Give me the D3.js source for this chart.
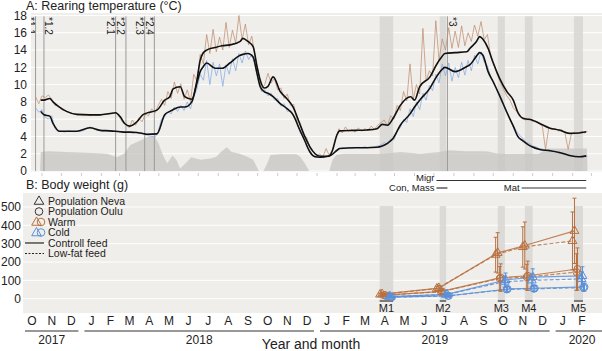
<!DOCTYPE html>
<html>
<head>
<meta charset="utf-8">
<script src="https://cdn.jsdelivr.net/npm/d3@7"></script>
<style>
  body { margin: 0; background: #ffffff; }
  svg { display: block; font-family: "Liberation Sans", Arial, sans-serif; }
</style>
</head>
<body>
<svg id="chart" width="602" height="351"></svg>
<script>
// ---------- Data ----------

// Smoothed rearing temperature (black lines), same dates for both treatments
let meanDates = ['2017-10-30','2017-11-04','2017-11-13','2017-11-18','2017-11-28','2017-12-09','2017-12-25','2018-01-14','2018-01-30','2018-02-14',
  '2018-02-23','2018-03-02','2018-03-09','2018-03-17','2018-03-28','2018-04-06','2018-04-12','2018-04-28','2018-05-10','2018-05-18',
  '2018-05-23','2018-06-03','2018-06-10','2018-06-21','2018-06-29','2018-07-04','2018-07-08','2018-07-14','2018-07-27','2018-08-07',
  '2018-08-19','2018-09-04','2018-09-08','2018-09-16','2018-09-24','2018-09-30','2018-10-05','2018-10-11','2018-10-17','2018-10-25',
  '2018-11-05','2018-11-15','2018-11-25','2018-12-05','2018-12-13','2018-12-21','2018-12-29','2019-01-06','2019-01-18','2019-01-24',
  '2019-02-01','2019-02-05','2019-03-01','2019-03-19','2019-04-04','2019-04-12','2019-04-20','2019-04-29','2019-05-10','2019-05-26',
  '2019-06-01','2019-06-09','2019-06-25','2019-07-05','2019-07-13','2019-07-18','2019-08-03','2019-08-21','2019-08-26','2019-09-05',
  '2019-09-10','2019-09-15','2019-09-23','2019-10-01','2019-10-11','2019-10-22','2019-11-01','2019-11-08','2019-11-16','2019-11-30',
  '2019-12-12','2019-12-28','2020-01-11','2020-01-27','2020-02-11','2020-02-22'];
let warmMean = [8.2,8.2,8.4,8.0,7.4,6.9,6.55,6.5,6.5,6.65,
  6.75,6.3,5.5,5.2,5.7,6.5,6.7,7.05,8.2,8.6,
  9.5,9.75,8.6,8.3,10.5,12.8,13.6,14.0,14.3,14.5,
  14.6,15.0,15.35,15.0,14.4,12.1,10.5,9.6,9.8,10.9,
  9.2,8.4,7.4,5.5,4.0,2.8,2.0,1.7,1.7,2.2,
  4.2,4.65,4.7,4.75,4.9,5.4,5.3,6.1,7.6,8.6,
  8.2,9.75,10.9,12.3,13.2,13.6,13.7,13.8,14.2,15.0,
  15.55,15.25,14.2,12.5,10.7,9.2,8.2,6.8,6.1,5.9,
  5.5,4.95,4.75,4.35,4.4,4.55];
let coldMean = [6.9,6.5,6.35,5.5,4.6,4.6,4.6,5.0,4.7,4.65,
  4.6,4.55,4.5,4.5,4.45,4.35,4.25,4.3,6.5,6.9,
  7.1,7.4,7.4,8.0,10.2,11.5,12.0,12.5,11.9,11.9,
  12.5,13.4,13.5,13.6,13.2,11.3,9.75,9.2,9.0,8.6,
  7.8,7.25,6.5,4.8,3.5,2.2,1.65,1.6,1.7,1.9,
  2.4,2.6,2.7,2.7,2.75,2.9,3.2,3.8,5.3,6.7,
  7.4,8.2,9.6,10.9,11.7,12.0,11.5,12.1,12.3,13.3,
  13.7,13.4,11.5,10.3,8.7,6.8,5.2,4.0,3.5,2.8,
  2.5,2.35,2.15,1.8,1.65,1.75];

// Logged temperature, one reading every 5 days from rawStart
let rawStart = '2017-10-22';
let rawStep = 5;
let warmRaw = [8.6,7.8,8.7,8.5,8.8,8.3,7.6,7.5,7.1,7.0,
  6.8,6.7,6.6,6.5,6.5,6.45,6.5,6.4,6.5,6.45,
  6.5,6.55,6.6,6.6,6.7,6.75,6.2,5.6,5.4,5.0,
  5.9,5.3,6.1,5.7,6.6,6.4,7.2,6.7,7.6,8.3,
  7.6,9.2,8.4,10.3,9.0,10.1,8.3,9.4,8.0,11.2,
  10.4,13.5,12.4,15.8,13.6,16.4,13.8,15.5,14.0,17.2,
  14.3,16.3,14.8,18.0,15.2,17.0,14.6,15.6,13.2,11.6,
  9.4,10.0,11.3,10.2,10.7,9.4,9.6,8.4,8.9,7.6,
  7.7,5.8,5.6,4.0,3.9,2.6,2.3,1.7,2.0,1.6,
  2.6,1.8,2.5,3.9,4.9,4.4,5.1,4.6,4.8,4.5,
  5.0,4.6,4.9,4.7,5.2,4.8,5.3,5.6,5.9,5.2,
  6.4,6.0,7.6,7.0,9.2,8.1,12.4,8.3,10.0,8.9,
  16.5,10.4,11.6,11.0,17.4,12.8,15.3,14.0,16.6,14.2,
  16.2,14.3,16.8,14.5,16.0,15.0,16.9,15.6,17.3,15.2,
  15.8,13.2,12.4,11.2,10.3,9.4,8.7,8.2,7.3,6.9,
  6.3,6.0,5.9,6.1,5.7,5.8,5.5,5.2,2.5,5.0,
  4.8,4.9,4.6,4.8,4.4,2.5,4.3,4.5,4.3,4.6,
  4.4,4.6];
let coldRaw = [7.3,6.8,7.1,6.2,6.0,6.4,4.9,4.6,4.6,4.5,
  4.65,4.6,4.55,4.6,4.6,4.7,5.0,5.1,4.9,4.7,
  4.7,4.6,4.65,4.6,4.6,4.55,4.5,4.55,4.45,4.5,
  4.4,4.45,4.35,4.4,4.2,4.1,4.0,3.9,4.6,6.0,
  6.3,6.9,6.6,7.4,6.9,7.6,7.0,8.0,7.2,8.6,
  9.5,11.2,10.5,12.8,10.0,12.6,11.0,12.4,9.8,12.3,
  11.2,13.0,11.6,13.6,12.5,13.9,12.9,13.5,12.2,10.6,
  9.2,9.4,8.7,9.0,8.2,8.4,7.5,7.8,6.9,7.0,
  6.2,5.6,4.4,4.0,2.8,2.4,1.7,1.6,1.55,1.6,
  1.7,1.65,1.9,2.3,2.5,2.7,2.6,2.7,2.65,2.7,
  2.75,2.7,2.8,2.7,2.75,2.8,2.9,3.0,3.3,3.1,
  3.7,3.6,4.6,5.0,6.0,5.6,7.2,6.3,8.0,7.1,
  9.0,8.2,9.9,9.3,11.2,10.2,12.4,11.0,12.5,10.4,
  12.0,10.8,12.6,11.1,12.8,11.6,13.4,12.4,13.8,12.6,
  12.2,10.8,10.3,9.3,8.6,7.6,6.9,6.0,5.3,4.6,
  4.1,3.8,3.3,3.2,2.9,2.8,2.6,2.55,2.4,2.45,
  2.3,2.3,2.2,2.1,2.0,1.85,1.8,1.7,1.65,1.7,
  1.75,1.7];

// Temperature difference between treatments (grey area)
let diffDates = ['2017-10-29','2017-10-30','2017-11-10','2017-12-10','2018-01-10','2018-02-10','2018-02-25','2018-03-08','2018-03-18','2018-04-04',
  '2018-04-14','2018-04-24','2018-04-30','2018-05-08','2018-05-14','2018-05-22','2018-05-28','2018-06-03','2018-06-13','2018-06-20',
  '2018-07-05','2018-07-20','2018-07-29','2018-08-05','2018-08-14','2018-08-22','2018-09-03','2018-09-15','2018-09-24','2018-10-01',
  '2018-10-03','2018-10-10','2018-10-16','2018-10-21','2018-11-05','2018-11-30','2018-12-06','2018-12-13','2018-12-20','2019-01-20',
  '2019-01-25','2019-01-31','2019-02-10','2019-03-15','2019-04-15','2019-05-10','2019-06-10','2019-07-10','2019-07-25','2019-08-20',
  '2019-09-20','2019-10-10','2019-11-15','2019-12-10','2019-12-25','2020-01-20','2020-02-23','2020-02-24'];
let diffVals = [0,2.2,2.3,2.2,2.1,2.0,1.6,2.0,3.0,3.6,
  4.0,4.0,3.3,1.7,0.9,1.8,1.3,0.3,1.0,1.6,
  1.3,1.45,1.65,2.2,2.75,2.2,2.0,1.65,1.3,0.3,
  0,0,0.9,1.85,1.95,1.95,1.65,0.9,0,0,
  1.3,1.85,2.0,2.0,2.0,2.2,2.0,2.2,2.4,2.3,
  2.3,2.0,2.0,2.0,2.6,2.6,2.6,0];

// Event markers in panel A
let noteLabels = ['*1.1','*1.2','*2.1','*2.2','*2.3','*2.4','*3'];
let noteDates = ['2017-10-22','2017-11-04','2018-02-23','2018-03-11','2018-04-09','2018-04-24','2019-07-22'];

// Life stage periods
let phaseNames = ['Migr','Con, Mass','Mat'];
let phaseStart = ['2019-07-05','2019-07-05','2019-11-14'];
let phaseEnd = ['2020-02-22','2019-07-22','2020-02-22'];

// Measurement periods
let mLabels = ['M1','M2','M3','M4','M5'];
let mStart = ['2019-04-08','2019-07-10','2019-10-08','2019-11-19','2020-02-03'];
let mEnd = ['2019-04-29','2019-07-20','2019-10-19','2019-12-01','2020-02-17'];
let mDates = ['2019-04-18','2019-07-15','2019-10-14','2019-11-25','2020-02-10'];

// Body weight (g): mean and SD per group at M1..M5
let bwPop = ['Neva','Neva','Oulu','Oulu','Neva','Neva','Oulu','Oulu'];
let bwTemp = ['Warm','Warm','Warm','Warm','Cold','Cold','Cold','Cold'];
let bwFeed = ['Control','Low-fat','Control','Low-fat','Control','Low-fat','Control','Low-fat'];
let bwMean = [
  [25, 58, 250, 290, 370],
  [23, 55, 240, 282, 315],
  [20, 40, 115, 125, 162],
  [19, 38, 110, 118, 145],
  [12, 24, 102, 118, 124],
  [11, 22, 93, 100, 108],
  [9, 16, 53, 57, 64],
  [8, 15, 50, 54, 60]];
let bwSd = [
  [8, 14, 110, 128, 178],
  [7, 13, 95, 110, 158],
  [6, 12, 75, 80, 115],
  [6, 11, 65, 70, 100],
  [4, 8, 38, 45, 50],
  [4, 7, 30, 35, 40],
  [3, 5, 15, 16, 22],
  [3, 5, 13, 15, 20]];

// Axis labels
let yearLabels = ['2017','2018','2019','2020'];
let axisStart = '2017-10-01';
let axisEnd = '2020-04-01';
let lastMonth = '2020-02-01';

// ---------- Drawing ----------

let parseDate = d3.timeParse('%Y-%m-%d');
let svg = d3.select('#chart');
let W = 602;

let bgColor = '#f0eeeb';
let bandColor = '#d7d6d4';
let warmColor = '#b8703f';
let coldColor = '#5a8fd8';
let textColor = '#222222';

// Shared time scale
let x = d3.scaleTime()
    .domain([parseDate('2017-10-16'), parseDate('2020-02-15')])
    .range([31.7, 581.7]);

// ===== Panel A =====
let aTop = 13, aBottom = 172, aLeft = 31;
let yA = d3.scaleLinear().domain([0, 18]).range([171, 15.5]);

svg.append('defs').append('clipPath').attr('id', 'clipA')
    .append('rect').attr('x', aLeft).attr('y', aTop).attr('width', W - aLeft).attr('height', aBottom - aTop);

let gA = svg.append('g').attr('clip-path', 'url(#clipA)');

gA.append('rect')
    .attr('x', aLeft).attr('y', aTop)
    .attr('width', W - aLeft).attr('height', aBottom - aTop)
    .attr('fill', bgColor);

gA.selectAll('line.grid')
    .data(d3.range(0, 19, 2))
    .join('line')
    .attr('class', 'grid')
    .attr('x1', aLeft).attr('x2', W)
    .attr('y1', d => yA(d)).attr('y2', d => yA(d))
    .attr('stroke', '#ffffff').attr('stroke-width', 1);

// Measurement bands
gA.selectAll('rect.band')
    .data(mLabels)
    .join('rect')
    .attr('class', 'band')
    .attr('x', (d, i) => x(parseDate(mStart[i])))
    .attr('width', (d, i) => x(parseDate(mEnd[i])) - x(parseDate(mStart[i])))
    .attr('y', yA(17.9)).attr('height', yA(0) - yA(17.9))
    .attr('fill', bandColor).attr('opacity', 0.85);

// Difference area
let diffData = diffDates.map((d, i) => ({ date: parseDate(d), v: diffVals[i] }));
gA.append('path')
    .datum(diffData)
    .attr('d', d3.area().x(d => x(d.date)).y0(yA(0)).y1(d => yA(d.v)))
    .attr('fill', '#c9c7c4').attr('opacity', 0.8);

// Event lines
gA.selectAll('line.note')
    .data(noteLabels)
    .join('line')
    .attr('class', 'note')
    .attr('x1', (d, i) => x(parseDate(noteDates[i])))
    .attr('x2', (d, i) => x(parseDate(noteDates[i])))
    .attr('y1', yA(17.9)).attr('y2', yA(0))
    .attr('stroke', '#9a9a9a').attr('stroke-width', 1);

let rightSide = new Set(['*1.2', '*3']);
gA.selectAll('text.note')
    .data(noteLabels)
    .join('text')
    .attr('class', 'note')
    .attr('transform', (d, i) => {
        let lx = x(parseDate(noteDates[i]));
        let tx = rightSide.has(d) ? lx + 1.5 : lx - 8.5;
        return `translate(${tx},17) rotate(90)`;
    })
    .attr('font-size', 10).attr('fill', textColor)
    .text(d => d);

// Raw temperature lines
let rawDate = i => d3.timeDay.offset(parseDate(rawStart), i * rawStep);
let rawLine = d3.line().x(d => x(d.date)).y(d => yA(d.v));

gA.append('path')
    .datum(coldRaw.map((v, i) => ({ date: rawDate(i), v: v })))
    .attr('d', rawLine)
    .attr('fill', 'none').attr('stroke', '#7fa9e6').attr('stroke-width', 0.9).attr('opacity', 0.8);

gA.append('path')
    .datum(warmRaw.map((v, i) => ({ date: rawDate(i), v: v })))
    .attr('d', rawLine)
    .attr('fill', 'none').attr('stroke', '#bd8a6b').attr('stroke-width', 0.9).attr('opacity', 0.8);

// Smoothed lines
let meanLine = d3.line().x(d => x(d.date)).y(d => yA(d.v)).curve(d3.curveMonotoneX);
[warmMean, coldMean].forEach(series => {
    gA.append('path')
        .datum(series.map((v, i) => ({ date: parseDate(meanDates[i]), v: v })))
        .attr('d', meanLine)
        .attr('fill', 'none').attr('stroke', '#111111').attr('stroke-width', 1.6);
});

// Panel A y labels
svg.selectAll('text.yA')
    .data(d3.range(0, 19, 2))
    .join('text')
    .attr('class', 'yA')
    .attr('x', 27).attr('y', d => yA(d))
    .attr('dy', '0.35em')
    .attr('text-anchor', 'end')
    .attr('font-size', 12).attr('fill', textColor)
    .text(d => d);

// Month boundary ticks under panel A
svg.selectAll('line.tickA')
    .data(d3.timeMonths(parseDate('2017-11-01'), parseDate(axisEnd)))
    .join('line')
    .attr('class', 'tickA')
    .attr('x1', d => x(d)).attr('x2', d => x(d))
    .attr('y1', aBottom + 1).attr('y2', aBottom + 4)
    .attr('stroke', '#cccccc');

svg.append('text')
    .attr('x', 26).attr('y', 10)
    .attr('font-size', 12.5).attr('fill', textColor)
    .text('A: Rearing temperature (°C)');

// Life stage periods
let phaseRow = [180.5, 188, 188];
svg.selectAll('line.phase')
    .data(phaseNames)
    .join('line')
    .attr('class', 'phase')
    .attr('x1', (d, i) => x(parseDate(phaseStart[i])))
    .attr('x2', (d, i) => x(parseDate(phaseEnd[i])))
    .attr('y1', (d, i) => phaseRow[i]).attr('y2', (d, i) => phaseRow[i])
    .attr('stroke', '#333333').attr('stroke-width', 1.2);

svg.selectAll('text.phase')
    .data(phaseNames)
    .join('text')
    .attr('class', 'phase')
    .attr('x', (d, i) => x(parseDate(phaseStart[i])) - 2)
    .attr('y', (d, i) => phaseRow[i] + (i === 0 ? 0.5 : 2.5))
    .attr('text-anchor', 'end')
    .attr('font-size', 9.5).attr('fill', textColor)
    .text(d => d);

// ===== Panel B =====
let bTop = 193, bBottom = 313, bLeft = 23;
let yB = d3.scaleLinear().domain([0, 500]).range([298.7, 207]);

svg.append('rect')
    .attr('x', bLeft).attr('y', bTop)
    .attr('width', W - bLeft).attr('height', bBottom - bTop)
    .attr('fill', bgColor);

svg.selectAll('line.gridB')
    .data(d3.range(0, 501, 100))
    .join('line')
    .attr('class', 'gridB')
    .attr('x1', bLeft).attr('x2', W)
    .attr('y1', d => yB(d)).attr('y2', d => yB(d))
    .attr('stroke', '#ffffff');

svg.selectAll('text.yB')
    .data(d3.range(0, 501, 100))
    .join('text')
    .attr('class', 'yB')
    .attr('x', 21).attr('y', d => yB(d))
    .attr('dy', '0.35em')
    .attr('text-anchor', 'end')
    .attr('font-size', 12).attr('fill', textColor)
    .text(d => d);

svg.selectAll('rect.bandB')
    .data(mLabels)
    .join('rect')
    .attr('class', 'bandB')
    .attr('x', (d, i) => x(parseDate(mStart[i])))
    .attr('width', (d, i) => x(parseDate(mEnd[i])) - x(parseDate(mStart[i])))
    .attr('y', yB(505)).attr('height', yB(-8) - yB(505))
    .attr('fill', bandColor).attr('opacity', 0.85);

// Measurement marks and labels
svg.selectAll('line.mBar')
    .data(mLabels)
    .join('line')
    .attr('class', 'mBar')
    .attr('x1', (d, i) => x(parseDate(mStart[i])))
    .attr('x2', (d, i) => x(parseDate(mEnd[i])))
    .attr('y1', 301).attr('y2', 301)
    .attr('stroke', '#555555').attr('stroke-width', 1.5);

svg.selectAll('text.mLab')
    .data(mLabels)
    .join('text')
    .attr('class', 'mLab')
    .attr('x', (d, i) => (x(parseDate(mStart[i])) + x(parseDate(mEnd[i]))) / 2)
    .attr('y', 312)
    .attr('text-anchor', 'middle')
    .attr('font-size', 11).attr('fill', textColor)
    .text(d => d);

// Body weight groups
let dodge = [-4, -6, -1, -2, 4, 3, 6, 5];
let groups = bwPop.map((p, g) => ({
    pop: p, temp: bwTemp[g], feed: bwFeed[g],
    pts: bwMean[g].map((m, j) => ({ x: x(parseDate(mDates[j])) + dodge[g], m: m, sd: bwSd[g][j] }))
}));
let tempColor = t => t === 'Warm' ? warmColor : coldColor;

let gB = svg.append('g');

gB.selectAll('path.bwLine')
    .data(groups)
    .join('path')
    .attr('class', 'bwLine')
    .attr('d', d => d3.line().x(p => p.x).y(p => yB(p.m))(d.pts))
    .attr('fill', 'none')
    .attr('stroke', d => tempColor(d.temp))
    .attr('stroke-width', 1.2)
    .attr('stroke-dasharray', d => d.feed === 'Low-fat' ? '4,2' : null)
    .attr('opacity', 0.85);

groups.forEach(grp => {
    let col = tempColor(grp.temp);
    let g = gB.append('g');

    g.selectAll('line.err')
        .data(grp.pts)
        .join('line')
        .attr('x1', p => p.x).attr('x2', p => p.x)
        .attr('y1', p => yB(p.m - p.sd)).attr('y2', p => yB(p.m + p.sd))
        .attr('stroke', col).attr('stroke-width', 1);

    ['lo', 'hi'].forEach(end => {
        g.selectAll('line.cap' + end)
            .data(grp.pts)
            .join('line')
            .attr('x1', p => p.x - 2).attr('x2', p => p.x + 2)
            .attr('y1', p => yB(end === 'lo' ? p.m - p.sd : p.m + p.sd))
            .attr('y2', p => yB(end === 'lo' ? p.m - p.sd : p.m + p.sd))
            .attr('stroke', col).attr('stroke-width', 1);
    });

    if (grp.pop === 'Neva') {
        g.selectAll('path.pt')
            .data(grp.pts)
            .join('path')
            .attr('transform', p => `translate(${p.x},${yB(p.m)})`)
            .attr('d', d3.symbol().type(d3.symbolTriangle).size(34))
            .attr('fill', 'none').attr('stroke', col).attr('stroke-width', 1);
    } else {
        g.selectAll('circle.pt')
            .data(grp.pts)
            .join('circle')
            .attr('cx', p => p.x).attr('cy', p => yB(p.m)).attr('r', 3.5)
            .attr('fill', 'none').attr('stroke', col).attr('stroke-width', 1);
    }
});

// Legend
let legY = i => 201 + i * 10.5;
let leg = svg.append('g');
let legText = ['Population Neva', 'Population Oulu', 'Warm', 'Cold', 'Controll feed', 'Low-fat feed'];
leg.selectAll('text')
    .data(legText)
    .join('text')
    .attr('x', 48).attr('y', (d, i) => legY(i))
    .attr('dy', '0.35em')
    .attr('font-size', 10.5).attr('fill', textColor)
    .text(d => d);

let tri = d3.symbol().type(d3.symbolTriangle).size(40);
leg.append('path').attr('d', tri).attr('transform', `translate(39,${legY(0) + 0.5})`)
    .attr('fill', 'none').attr('stroke', '#333').attr('stroke-width', 1);
leg.append('circle').attr('cx', 39).attr('cy', legY(1)).attr('r', 3.8)
    .attr('fill', 'none').attr('stroke', '#333').attr('stroke-width', 1);
[['Warm', 2], ['Cold', 3]].forEach(([t, row]) => {
    leg.append('path').attr('d', tri).attr('transform', `translate(36.5,${legY(row) + 0.5})`)
        .attr('fill', 'none').attr('stroke', tempColor(t)).attr('stroke-width', 1);
    leg.append('circle').attr('cx', 41).attr('cy', legY(row)).attr('r', 3.8)
        .attr('fill', 'none').attr('stroke', tempColor(t)).attr('stroke-width', 1);
});
leg.append('line').attr('x1', 25).attr('x2', 44).attr('y1', legY(4)).attr('y2', legY(4))
    .attr('stroke', '#222').attr('stroke-width', 1.2);
leg.append('line').attr('x1', 25).attr('x2', 44).attr('y1', legY(5)).attr('y2', legY(5))
    .attr('stroke', '#222').attr('stroke-width', 1.2).attr('stroke-dasharray', '2,1.5');

svg.append('text')
    .attr('x', 26).attr('y', 189)
    .attr('font-size', 12.5).attr('fill', textColor)
    .text('B: Body weight (g)');

// ===== Time axis =====
let months = d3.timeMonths(parseDate(axisStart), d3.timeMonth.offset(parseDate(lastMonth), 1));
svg.selectAll('text.month')
    .data(months)
    .join('text')
    .attr('class', 'month')
    .attr('x', d => (x(d) + x(d3.timeMonth.offset(d, 1))) / 2)
    .attr('y', 325)
    .attr('text-anchor', 'middle')
    .attr('font-size', 12).attr('fill', textColor)
    .text(d => d3.timeFormat('%B')(d)[0]);

let yearSpan = y => {
    let s = d3.max([parseDate(axisStart), parseDate(y + '-01-01')]);
    let e = d3.min([parseDate(axisEnd), parseDate((+y + 1) + '-01-01')]);
    return [x(s) + 3, x(e) - 3];
};
svg.selectAll('line.year')
    .data(yearLabels)
    .join('line')
    .attr('class', 'year')
    .attr('x1', d => yearSpan(d)[0]).attr('x2', d => yearSpan(d)[1])
    .attr('y1', 331).attr('y2', 331)
    .attr('stroke', '#333333').attr('stroke-width', 1.2);

svg.selectAll('text.year')
    .data(yearLabels)
    .join('text')
    .attr('class', 'year')
    .attr('x', d => d3.mean(yearSpan(d)))
    .attr('y', 344)
    .attr('text-anchor', 'middle')
    .attr('font-size', 12).attr('fill', textColor)
    .text(d => d);

svg.append('text')
    .attr('x', 311).attr('y', 349)
    .attr('text-anchor', 'middle')
    .attr('font-size', 14).attr('fill', textColor)
    .text('Year and month');
</script>
</body>
</html>
